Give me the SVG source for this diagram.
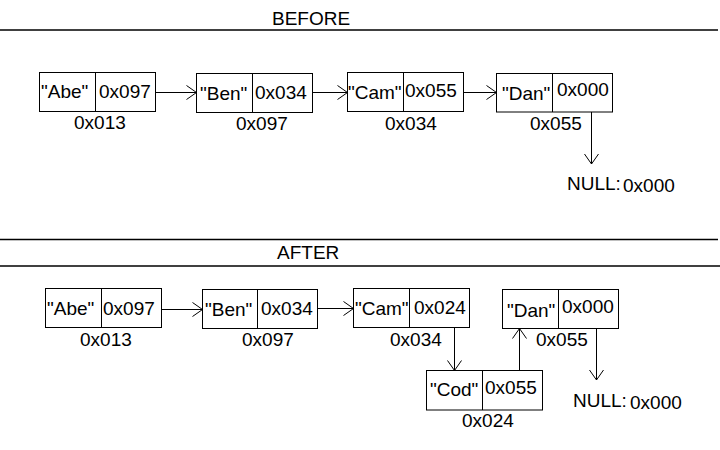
<svg xmlns="http://www.w3.org/2000/svg" width="720" height="450" viewBox="0 0 720 450">
<style>
text{font-family:"Liberation Sans",Arial,sans-serif;font-size:19px;fill:#000}
.box{fill:#fff;stroke:#000;stroke-width:1}
.ln{stroke:#000;stroke-width:1;fill:none}
.rule{stroke:#000;stroke-width:1.5}
</style>
<defs>
<marker id="ah" markerUnits="userSpaceOnUse" viewBox="-11 -8 12 16" markerWidth="12" markerHeight="16" refX="0" refY="0" orient="auto">
<path d="M-10,-7 L0,0 L-10,7" fill="none" stroke="#000" stroke-width="1"/>
</marker>
</defs>
<rect width="720" height="450" fill="#fff"/>
<g id="headers">
<text x="272" y="25">BEFORE</text>
<line class="rule" x1="0" y1="30" x2="718" y2="30"/>
<line class="rule" x1="0" y1="239.5" x2="718" y2="239.5"/>
<text x="277" y="259">AFTER</text>
<line class="rule" x1="0" y1="266" x2="720" y2="266"/>
</g>
<g id="connectors">
<line class="ln" x1="155.5" y1="92.5" x2="196.5" y2="92.5" marker-end="url(#ah)"/>
<line class="ln" x1="312.5" y1="92.5" x2="347.5" y2="92.5" marker-end="url(#ah)"/>
<line class="ln" x1="463.5" y1="92.5" x2="496.5" y2="92.5" marker-end="url(#ah)"/>
<line class="ln" x1="591.5" y1="112" x2="591.5" y2="164" marker-end="url(#ah)"/>
<line class="ln" x1="161.5" y1="309.5" x2="202.5" y2="309.5" marker-end="url(#ah)"/>
<line class="ln" x1="317.5" y1="308.5" x2="353.5" y2="308.5" marker-end="url(#ah)"/>
<line class="ln" x1="454.5" y1="327.5" x2="454.5" y2="370.5" marker-end="url(#ah)"/>
<line class="ln" x1="519.5" y1="370.5" x2="519.5" y2="328.5" marker-end="url(#ah)"/>
<line class="ln" x1="596.5" y1="328.5" x2="596.5" y2="380" marker-end="url(#ah)"/>
</g>
<g id="b-abe">
<rect class="box" x="39.5" y="72.5" width="116" height="39"/>
<line class="ln" x1="95.5" y1="72.5" x2="95.5" y2="111.5"/>
<text x="41" y="98">"Abe"</text><text x="99" y="98">0x097</text>
<text x="74" y="129">0x013</text>
</g>
<g id="b-ben">
<rect class="box" x="196.5" y="73.5" width="116" height="39"/>
<line class="ln" x1="252.5" y1="73.5" x2="252.5" y2="112.5"/>
<text x="200" y="100">"Ben"</text><text x="255" y="99">0x034</text>
<text x="236" y="130">0x097</text>
</g>
<g id="b-cam">
<rect class="box" x="347.5" y="72.5" width="116" height="39"/>
<line class="ln" x1="403.5" y1="72.5" x2="403.5" y2="111.5"/>
<text x="348" y="99">"Cam"</text><text x="405" y="97">0x055</text>
<text x="385" y="130">0x034</text>
</g>
<g id="b-dan">
<rect class="box" x="496.5" y="73.5" width="116" height="38.5"/>
<line class="ln" x1="552.5" y1="73.5" x2="552.5" y2="112"/>
<text x="502" y="100">"Dan"</text><text x="557" y="96">0x000</text>
<text x="530" y="130">0x055</text>
</g>
<g id="b-null">
<text x="567" y="190">NULL:</text><text x="623" y="192">0x000</text>
</g>
<g id="a-abe">
<rect class="box" x="45.5" y="288.5" width="116" height="39"/>
<line class="ln" x1="101.5" y1="288.5" x2="101.5" y2="327.5"/>
<text x="47" y="315">"Abe"</text><text x="103" y="315">0x097</text>
<text x="80" y="346">0x013</text>
</g>
<g id="a-ben">
<rect class="box" x="202.5" y="289.5" width="115" height="39"/>
<line class="ln" x1="257.5" y1="289.5" x2="257.5" y2="328.5"/>
<text x="205" y="316">"Ben"</text><text x="261" y="315">0x034</text>
<text x="242" y="346">0x097</text>
</g>
<g id="a-cam">
<rect class="box" x="353.5" y="288.5" width="116" height="39"/>
<line class="ln" x1="409.5" y1="288.5" x2="409.5" y2="327.5"/>
<text x="355" y="315">"Cam"</text><text x="414" y="314">0x024</text>
<text x="390" y="346">0x034</text>
</g>
<g id="a-cod">
<rect class="box" x="426.5" y="370.5" width="116" height="39.5"/>
<line class="ln" x1="482.5" y1="370.5" x2="482.5" y2="410"/>
<text x="430" y="396">"Cod"</text><text x="485" y="394">0x055</text>
<text x="462" y="427">0x024</text>
</g>
<g id="a-dan">
<rect class="box" x="502.5" y="289.5" width="116" height="39"/>
<line class="ln" x1="558.5" y1="289.5" x2="558.5" y2="328.5"/>
<text x="507" y="317">"Dan"</text><text x="562" y="313">0x000</text>
<text x="536" y="346">0x055</text>
</g>
<g id="a-null">
<text x="573" y="407">NULL:</text><text x="630" y="409">0x000</text>
</g>
</svg>
